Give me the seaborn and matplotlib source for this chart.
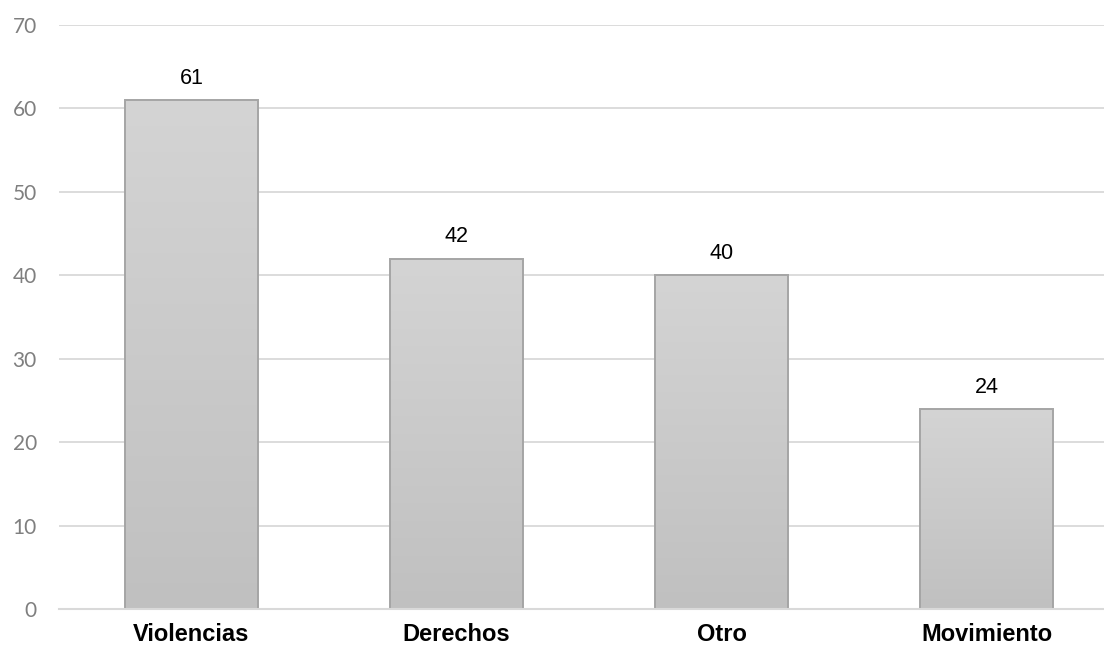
import numpy as np
import pandas as pd
import matplotlib
matplotlib.use("Agg")
import matplotlib.pyplot as plt
from matplotlib.colors import LinearSegmentedColormap
import seaborn as sns

categories = ["Violencias", "Derechos", "Otro", "Movimiento"]
values = [61, 42, 40, 24]
yticks = [0, 10, 20, 30, 40, 50, 60, 70]

df = pd.DataFrame({"categoria": categories, "valor": values})

sns.set_theme(style="white")
plt.rcParams["font.family"] = ["Liberation Sans", "DejaVu Sans"]

fig = plt.figure(figsize=(11.04, 6.46), dpi=100)
ax = fig.add_axes([59 / 1104, 37 / 646, 1 - 59 / 1104, (609 - 25) / 646])

sns.barplot(data=df, x="categoria", y="valor", ax=ax, width=0.5,
            color="#cacaca", edgecolor="#a5a5a5", linewidth=1.4,
            saturation=1, zorder=3)

# vertical grey gradient inside each bar, lighter at the top
cmap = LinearSegmentedColormap.from_list("barfill", ["#c0c0c0", "#d4d4d4"])
grad = np.linspace(0, 1, 256).reshape(-1, 1)
for patch in ax.patches:
    x0, y0 = patch.get_x(), patch.get_y()
    w, h = patch.get_width(), patch.get_height()
    im = ax.imshow(grad, cmap=cmap, origin="lower", aspect="auto",
                   extent=(x0, x0 + w, y0, y0 + h), zorder=2.5,
                   interpolation="bicubic")
    im.set_clip_path(patch)
    patch.set_facecolor("none")

for patch, v in zip(ax.patches, values):
    ax.text(patch.get_x() + patch.get_width() / 2, v + 1.95, f"{v}",
            ha="center", va="baseline", fontsize=15.5, color="#000000",
            family=["Liberation Sans", "DejaVu Sans"])

ax.set_xlim(-0.5, (1104 - 191.5) / 265)
ax.set_ylim(0, 70)
ax.set_yticks(yticks)
ax.set_yticklabels([str(t) for t in yticks], fontsize=15, color="#7f7f7f",
                   family=["Lato", "DejaVu Sans"])
ax.yaxis.grid(True, color="#d9d9d9", linewidth=1.3, zorder=0)
ax.set_axisbelow(True)
ax.tick_params(axis="y", length=0, pad=16)
ax.tick_params(axis="x", length=0, pad=10)
for lbl in ax.get_xticklabels():
    lbl.set_fontsize(17)
    lbl.set_fontweight("bold")
    lbl.set_color("#000000")
ax.set_xlabel("")
ax.set_ylabel("")
for side in ["top", "right", "left"]:
    ax.spines[side].set_visible(False)
ax.spines["bottom"].set_color("#d9d9d9")
ax.spines["bottom"].set_linewidth(1.5)
ax.spines["bottom"].set_zorder(4)

fig.savefig("out.png", dpi=100)
